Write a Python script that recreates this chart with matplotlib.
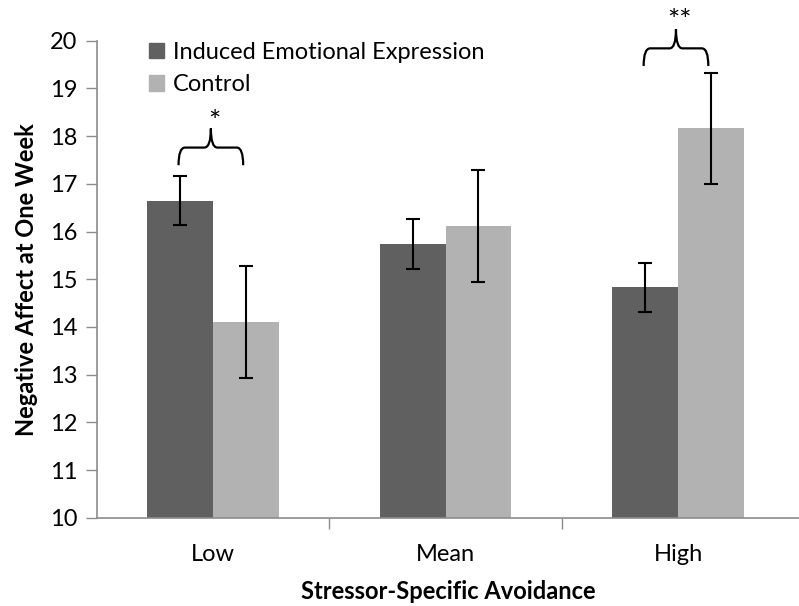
import matplotlib
matplotlib.use("Agg")
import matplotlib.pyplot as plt
from matplotlib.path import Path
from matplotlib.patches import PathPatch, Patch
import numpy as np

plt.rcParams['font.family'] = ['Lato', 'DejaVu Sans']

categories = ['Low', 'Mean', 'High']
series_names = ['Induced Emotional Expression', 'Control']
induced = [16.65, 15.74, 14.83]
control = [14.10, 16.12, 18.16]
induced_se = [0.52, 0.52, 0.52]
control_se = [1.17, 1.17, 1.17]
# significance brackets: (category index, label)
sig_marks = [(0, '*'), (2, '**')]
sig_levels = [(17.39, 17.76, 18.16, 18.27), (19.47, 19.84, 20.24, 20.40)]

dark = '#606060'
light = '#b2b2b2'
axis_gray = '#8c8c8c'
fs = 17


def brace(ax, x0, x1, y0, y1, y2, dx=0.028):
    xc = (x0 + x1) / 2
    verts = [(x0, y0), (x0, y1), (x0 + dx, y1),
             (xc - dx, y1), (xc, y1), (xc, y2),
             (xc, y1), (xc + dx, y1),
             (x1 - dx, y1), (x1, y1), (x1, y0)]
    codes = [Path.MOVETO, Path.CURVE3, Path.CURVE3,
             Path.LINETO, Path.CURVE3, Path.CURVE3,
             Path.CURVE3, Path.CURVE3,
             Path.LINETO, Path.CURVE3, Path.CURVE3]
    ax.add_patch(PathPatch(Path(verts, codes), fill=False, lw=1.6,
                           edgecolor='black', clip_on=False))


fig = plt.figure(figsize=(7.99, 6.06), dpi=100)
ax = fig.add_axes([0.121, 0.1457, 0.879, 0.7871])

x = np.arange(len(categories))
w = 0.283
err_kw = dict(ecolor='black', elinewidth=1.5, capsize=5, capthick=1.5)
ax.bar(x - w / 2, induced, w, color=dark, yerr=induced_se,
       error_kw=err_kw, label=series_names[0], zorder=2)
ax.bar(x + w / 2, control, w, color=light, yerr=control_se,
       error_kw=err_kw, label=series_names[1], zorder=2)

for (i, lab), (y0, y1, y2, ys) in zip(sig_marks, sig_levels):
    brace(ax, i - 0.148, i + 0.13, y0, y1, y2)
    ax.text(i + 0.005, ys, lab, ha='center', va='center', fontsize=21,
            clip_on=False)

ax.set_xlim(-0.5, 2.52)
ax.set_ylim(10, 20)
ax.set_yticks(range(10, 21))
ax.set_xticks(x)
ax.set_xticklabels(categories)
ax.set_xticks([0.5, 1.5], minor=True)
ax.tick_params(axis='x', which='major', length=0, pad=19, labelsize=fs)
ax.tick_params(axis='x', which='minor', length=8, color=axis_gray, width=1)
ax.tick_params(axis='y', length=8, color=axis_gray, width=1, labelsize=fs, pad=6)

for s in ['top', 'right']:
    ax.spines[s].set_visible(False)
for s in ['left', 'bottom']:
    ax.spines[s].set_color(axis_gray)
    ax.spines[s].set_linewidth(1.2)

ax.set_ylabel('Negative Affect at One Week', fontsize=fs, fontweight='bold',
              labelpad=8)
ax.set_xlabel('Stressor-Specific Avoidance', fontsize=fs, fontweight='bold',
              labelpad=11)

handles = [Patch(color=dark), Patch(color=light)]
ax.legend(handles, series_names, loc='upper left', bbox_to_anchor=(0.0745, 0.997),
          frameon=False, fontsize=fs, handlelength=0.62, handleheight=0.62,
          handletextpad=0.4, labelspacing=0.47, borderpad=0, borderaxespad=0)

fig.savefig('out.png', dpi=100)
